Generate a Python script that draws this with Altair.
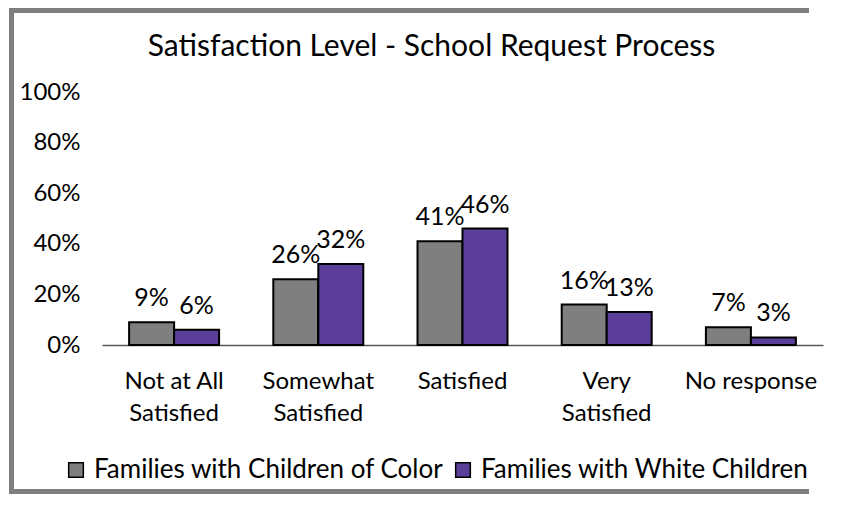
import altair as alt
import pandas as pd

categories = ["Not at All\nSatisfied", "Somewhat\nSatisfied", "Satisfied", "Very\nSatisfied", "No response"]
groups = ["Families with Children of Color", "Families with White Children"]
color_values = [9, 26, 41, 16, 7]
white_values = [6, 32, 46, 13, 3]
y_ticks = [0, 20, 40, 60, 80, 100]
bar_colors = ["#7f7f7f", "#5b3e9a"]

rows = []
for c, a, b in zip(categories, color_values, white_values):
    rows.append({"category": c, "group": groups[0], "value": a / 100})
    rows.append({"category": c, "group": groups[1], "value": b / 100})
df = pd.DataFrame(rows)

FONT = "Lato"
W, H = 721, 253
PAD = {"left": 94, "top": 84, "right": 16, "bottom": 149}
TOTAL_H = PAD["top"] + H + PAD["bottom"]
AXFS = 24

x_enc = alt.X(
    "category:N", sort=categories,
    scale=alt.Scale(paddingInner=0.376, paddingOuter=0.188),
    axis=alt.Axis(title=None, labelAngle=0, ticks=False,
                  labelExpr="split(datum.label, '\\n')",
                  domainColor="#595959", domainWidth=1.5,
                  labelFontSize=AXFS, labelLineHeight=32, labelPadding=24,
                  labelFont=FONT, labelColor="#000000"),
)
y_enc = alt.Y(
    "value:Q", scale=alt.Scale(domain=[0, 1]),
    axis=alt.Axis(title=None, values=[t / 100 for t in y_ticks], format=".0%",
                  grid=False, domain=False, ticks=False, labelPadding=22,
                  labelFontSize=AXFS, labelFont=FONT, labelColor="#000000"),
)
xo = alt.XOffset("group:N", sort=groups, scale=alt.Scale(paddingInner=0, paddingOuter=0))

bars = alt.Chart(df).mark_bar(stroke="black", strokeWidth=2).encode(
    x=x_enc, y=y_enc, xOffset=xo,
    color=alt.Color(
        "group:N", sort=groups,
        scale=alt.Scale(domain=groups, range=bar_colors),
        legend=alt.Legend(
            orient="none", legendX=-39, legendY=365, direction="horizontal",
            title=None, symbolType="square", symbolSize=215,
            symbolStrokeColor="black", symbolStrokeWidth=1.5,
            labelFontSize=26, labelFont=FONT, labelColor="#000000",
            labelLimit=0, columnPadding=6, labelOffset=5, symbolOpacity=1,
        ),
    ),
)

labels = alt.Chart(df).mark_text(
    baseline="alphabetic", dy=-16, fontSize=25, font=FONT, color="#000000"
).encode(
    x=alt.X("category:N", sort=categories),
    y="value:Q",
    xOffset=xo,
    text=alt.Text("value:Q", format=".0%"),
)

one = pd.DataFrame({"k": [0]})
FILL = dict(color="#7f7f7f", strokeWidth=0)
right_x = W - 14
bottom_y = TOTAL_H - PAD["top"]
left_edge = alt.Chart(one).mark_rect(**FILL).encode(
    x=alt.value(-93), x2=alt.value(-88), y=alt.value(-84), y2=alt.value(bottom_y))
top_edge = alt.Chart(one).mark_rect(**FILL).encode(
    x=alt.value(-93), x2=alt.value(right_x), y=alt.value(-84), y2=alt.value(-79))
bottom_edge = alt.Chart(one).mark_rect(**FILL).encode(
    x=alt.value(-93), x2=alt.value(right_x), y=alt.value(bottom_y - 5), y2=alt.value(bottom_y))

chart = alt.layer(left_edge, top_edge, bottom_edge, bars, labels).properties(
    width=W, height=H,
    autosize=alt.AutoSizeParams(type="none"),
    padding=PAD,
    background="white",
    title=alt.Title("Satisfaction Level - School Request Process",
                    fontSize=30, font=FONT, fontWeight="normal",
                    color="#000000", anchor="middle", frame="group",
                    offset=-54, dx=-31),
).configure_view(stroke=None)

chart.save("out.html", embed_options={"renderer": "svg", "actions": False})
